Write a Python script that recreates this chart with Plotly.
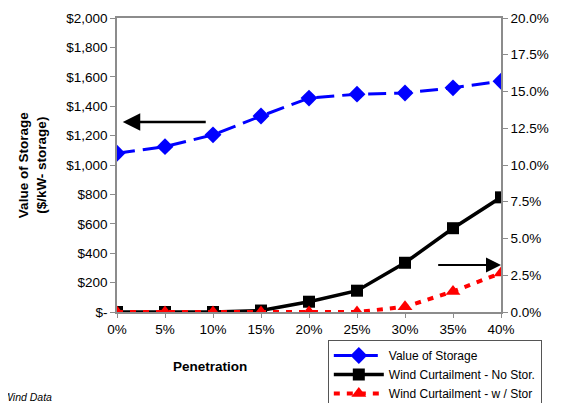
import plotly.graph_objects as go

penetration = [0, 5, 10, 15, 20, 25, 30, 35, 40]
x_labels = ["0%", "5%", "10%", "15%", "20%", "25%", "30%", "35%", "40%"]
value_of_storage = [1080, 1125, 1205, 1333, 1455, 1482, 1490, 1525, 1570]
curt_no_stor = [0.0, 0.0, 0.0, 0.1, 0.7, 1.45, 3.35, 5.7, 7.8]
curt_w_stor = [0.0, 0.0, 0.0, 0.0, 0.0, 0.0, 0.35, 1.4, 2.65]

left_vals = [0, 200, 400, 600, 800, 1000, 1200, 1400, 1600, 1800, 2000]
left_text = ["$-", "$200", "$400", "$600", "$800", "$1,000", "$1,200", "$1,400", "$1,600", "$1,800", "$2,000"]
right_vals = [0, 2.5, 5, 7.5, 10, 12.5, 15, 17.5, 20]
right_text = ["0.0%", "2.5%", "5.0%", "7.5%", "10.0%", "12.5%", "15.0%", "17.5%", "20.0%"]

FONT = "Liberation Sans, Arial, sans-serif"
GREY = "#8c8c8c"

fig = go.Figure()
fig.add_trace(go.Scatter(
    x=penetration, y=value_of_storage, name="Value of Storage", mode="lines+markers",
    line=dict(color="#0000FF", width=3, dash="18px,8px"),
    marker=dict(symbol="diamond", size=13, color="#0000FF"), yaxis="y"))
fig.add_trace(go.Scatter(
    x=penetration, y=curt_no_stor, name="Wind Curtailment - No Stor.", mode="lines+markers",
    line=dict(color="#000000", width=3.5),
    marker=dict(symbol="square", size=12, color="#000000"), yaxis="y2"))
fig.add_trace(go.Scatter(
    x=penetration, y=curt_w_stor, name="Wind Curtailment - w / Stor", mode="lines+markers",
    line=dict(color="#FF0000", width=4, dash="6px,7px"),
    marker=dict(symbol="triangle-up", size=13, color="#FF0000"), yaxis="y2"))

fig.update_layout(
    width=562, height=395,
    margin=dict(l=109, r=69, t=10, b=91, autoexpand=False),
    paper_bgcolor="white", plot_bgcolor="white",
    font=dict(family=FONT, size=13, color="#000000"),
    showlegend=True,
    legend=dict(x=0.549, y=-0.1, xanchor="left", yanchor="top",
                bordercolor="#555555", borderwidth=1, bgcolor="white",
                font=dict(size=12.5, family=FONT), itemwidth=50,
                tracegroupgap=0, entrywidth=0),
    xaxis=dict(range=[0, 40], tickvals=penetration, ticktext=x_labels,
               showline=True, linecolor=GREY, linewidth=1.5, mirror=True,
               ticks="outside", ticklen=4, tickcolor=GREY, showgrid=False,
               zeroline=False, tickfont=dict(size=13.5)),
    yaxis=dict(range=[0, 2000], tickvals=left_vals, ticktext=left_text,
               showline=True, linecolor=GREY, linewidth=1.5,
               ticks="outside", ticklen=5, tickcolor=GREY, showgrid=False,
               zeroline=False, tickfont=dict(size=13.5)),
    yaxis2=dict(range=[0, 20], tickvals=right_vals, ticktext=right_text,
                overlaying="y", side="right",
                showline=True, linecolor=GREY, linewidth=1.5,
                ticks="outside", ticklen=5, tickcolor=GREY, showgrid=False,
                zeroline=False, tickfont=dict(size=13.5)),
    annotations=[
        dict(text="<b>Value of Storage<br>($/kW- storage)</b>", xref="paper", yref="paper",
             x=-0.221, y=0.5, xanchor="center", yanchor="middle", textangle=-90,
             showarrow=False, font=dict(size=13.5, family=FONT)),
        dict(text="<b>Wind Curtailment (%)</b>", xref="paper", yref="paper",
             x=1.182, y=0.5, xanchor="center", yanchor="middle", textangle=-90,
             showarrow=False, font=dict(size=13.5, family=FONT)),
        dict(text="<b>Penetration</b>", xref="paper", yref="paper",
             x=0.242, y=-0.184, xanchor="center", yanchor="middle",
             showarrow=False, font=dict(size=13.5, family=FONT)),
        dict(text="<i>Wind Data</i>", xref="paper", yref="paper",
             x=-0.301, y=-0.289, xanchor="left", yanchor="middle",
             showarrow=False, font=dict(size=10.5, family=FONT)),
        dict(x=0.6, y=1293, xref="x", yref="y", ax=9.4, ay=1293, axref="x", ayref="y",
             text="", showarrow=True, arrowhead=2, arrowsize=1.4, arrowwidth=2.5,
             arrowcolor="#000000"),
        dict(x=40, y=3.2, xref="x", yref="y2", ax=33.3, ay=3.2, axref="x", ayref="y2",
             text="", showarrow=True, arrowhead=2, arrowsize=1.5, arrowwidth=2,
             arrowcolor="#000000"),
    ],
)

# tighten legend rows to match the reference spacing
fig.update_layout(legend_valign="middle")
fig.update_traces(legendgroup=None)
fig.layout.legend.font.size = 12
fig.layout.legend.y = -0.095

fig.write_html("out.html")
